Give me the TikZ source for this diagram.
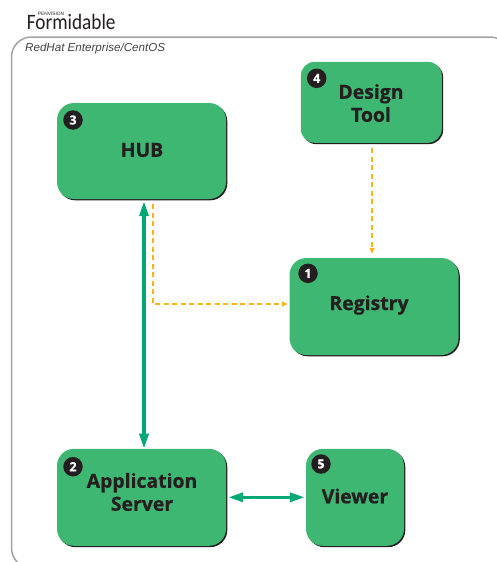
\documentclass[tikz,border=0pt]{standalone}
\usepackage{fontspec}
\setmainfont{Open Sans}
\newfontfamily\arialfont{Liberation Sans}
\newfontfamily\logofont{Carlito}
\newfontfamily\boxfont[UprightFont=* Bold,FakeBold=0.7]{Open Sans}
\usetikzlibrary{arrows.meta,calc}
\definecolor{boxgreen}{HTML}{3EB772}
\definecolor{linkgreen}{HTML}{00A878}
\definecolor{dashgold}{HTML}{FDB515}
\definecolor{framegray}{HTML}{A3A3A3}
\definecolor{inkdark}{HTML}{231F20}
\tikzset{
  x=1pt,y=-1pt,
  box/.style={fill=boxgreen,rounded corners=17pt,inner sep=0pt,
    preaction={fill=inkdark,transform canvas={shift={(1.3pt,-1.3pt)}}}},
  boxlabel/.style={font=\boxfont\fontsize{19.4}{23}\selectfont,text=inkdark,align=center,inner sep=0pt},
  badge/.style={circle,fill=inkdark,text=white,minimum size=19.5pt,inner sep=0pt,
    font=\boxfont\fontsize{12.5}{12.5}\selectfont},
  solidlink/.style={draw=linkgreen,line width=3.4pt,
    {Stealth[length=15pt,width=9pt,inset=0pt]}-{Stealth[length=15pt,width=9pt,inset=0pt]}},
  dashlink/.style={draw=dashgold,line width=1.6pt,dash pattern=on 5pt off 3.5pt,
    -{Stealth[length=6pt,width=5pt,inset=0pt]}},
}
\begin{document}
\begin{tikzpicture}
\useasboundingbox (0,0) rectangle (497,562);
\clip (0,0) rectangle (497,562);
\fill[white] (0,0) rectangle (497,562);
\draw[framegray,line width=1.5pt,rounded corners=20pt] (11.5,37) rectangle (510,568);
\node[anchor=base west,inner sep=0pt,font=\arialfont\itshape\fontsize{11.6}{13}\selectfont,text=inkdark!85] (os) at (25,51) {RedHat Enterprise/CentOS};
\node[anchor=base west,inner sep=0pt,xscale=0.875,font=\logofont\fontsize{22}{22}\selectfont,text=inkdark] (logo) at (26.7,29) {Formidable};
\node[anchor=base west,inner sep=0pt,font=\arialfont\fontsize{4.8}{5}\selectfont,text=inkdark] (pen) at (37.7,15.5) {PENVISION};

\node[box,minimum width=169pt,minimum height=96pt] (hub) at (141.5,151) {};
\node[box,minimum width=141pt,minimum height=81pt,rounded corners=14pt] (design) at (371.3,102.3) {};
\node[box,minimum width=169pt,minimum height=97pt] (registry) at (374,306.5) {};
\node[box,minimum width=169pt,minimum height=97pt] (app) at (141.5,497.3) {};
\node[box,minimum width=98pt,minimum height=97pt] (viewer) at (355,497.3) {};

\node[boxlabel] (hublabel) at (142,150) {HUB};
\node[boxlabel] (designlabel) at (371,103) {Design\\Tool};
\node[boxlabel] (registrylabel) at (369,305) {Registry};
\node[boxlabel] (applabel) at (142,492) {Application\\Server};
\node[boxlabel] (viewerlabel) at (355,496) {Viewer};

\node[badge] (b3) at (73,120) {3};
\node[badge] (b4) at (316.7,78.3) {4};
\node[badge] (b1) at (308,273.3) {1};
\node[badge] (b2) at (73,466.7) {2};
\node[badge] (b5) at (321,464) {5};

\draw[solidlink] ([xshift=2.5pt,yshift=-2pt]hub.south) -- ([xshift=2.5pt]app.north);
\draw[solidlink] ([xshift=2pt]app.east |- viewer.west) -- ([xshift=-1pt]viewer.west);
\draw[dashlink] ([xshift=0.7pt,yshift=-5pt]design.south) -- ([xshift=-2pt,yshift=4pt]registry.north);
\draw[dashlink] ([xshift=11.5pt,yshift=-5pt]hub.south) |- ([xshift=-1.5pt,yshift=2.5pt]registry.west);
\end{tikzpicture}
\end{document}
